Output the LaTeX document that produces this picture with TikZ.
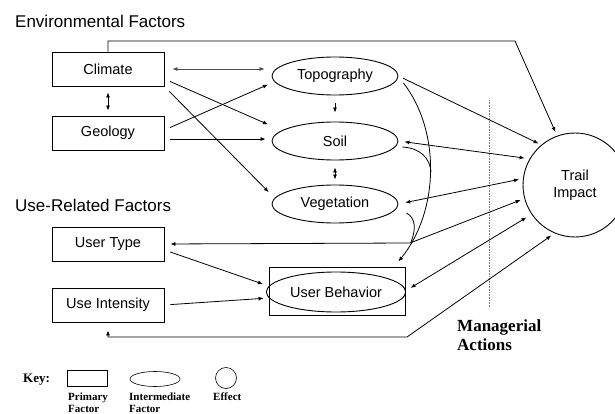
\documentclass[tikz,border=0pt]{standalone}
\usepackage{fontspec}
\setmainfont{Liberation Sans}
\newfontfamily\keyfont{Liberation Serif}
\usetikzlibrary{arrows.meta,shapes.geometric}

\begin{document}
\begin{tikzpicture}[x=1pt,y=-1pt,
    primary/.style={draw,line width=0.9pt,minimum width=112pt,minimum height=34pt,
      font=\fontsize{14.5}{17}\selectfont},
    inter/.style={draw,ellipse,line width=0.9pt,minimum width=126pt,minimum height=38pt,
      font=\fontsize{14.5}{17}\selectfont},
    effect/.style={draw,circle,line width=0.9pt,minimum size=104pt,align=center,
      font=\fontsize{14.5}{17}\selectfont},
    heading/.style={anchor=west,inner sep=0pt,font=\fontsize{17}{20}\selectfont},
    keytext/.style={anchor=north west,inner sep=0pt,align=left,
      font=\keyfont\bfseries\fontsize{11}{12}\selectfont},
    link/.style={line width=0.8pt,>={Latex[length=5pt,width=4pt]}}]
      \useasboundingbox (0,0) rectangle (615,414);
      \draw
        (15,21) node[heading] (envtitle){Environmental Factors}
        (108,69) node[primary] (climate){Climate}
        (108,133) node[primary] (geology){Geology}
        (15,205) node[heading] (usetitle){Use-Related Factors}
        (108,244) node[primary] (usertype){User Type}
        (108,305) node[primary] (useint){Use Intensity}
        (335,76) node[inter] (topo){Topography}
        (335,141) node[inter] (soil){Soil}
        (335,204) node[inter] (veg){Vegetation}
        (337,291) node[draw,line width=0.9pt,minimum width=136pt,minimum height=48pt] (userbox){}
        (336,292) node[inter,minimum width=128pt,minimum height=40pt] (behavior){User Behavior}
        (575,185) node[effect] (trail){Trail\\Impact}
        (457,320) node[anchor=north west,inner sep=0pt,align=left,
          font=\keyfont\bfseries\fontsize{17}{19}\selectfont] (managerial){Managerial\\Actions};
      \coordinate (topbend) at (515,41);
      \coordinate (utbend) at (410,243);
      \coordinate (botbend) at (407,337);
      \coordinate (merge1) at (431,172);
      \coordinate (merge2) at (411,242);
      % managerial actions boundary
      \draw[gray,line width=0.6pt,densely dotted] (489,100) -- (489,307);
      \begin{scope}[link]
        \draw[<->,line width=0.6pt,gray!60!black,shorten <=8pt,shorten >=7pt] (climate.east) to (climate.east -| topo.west);
        \draw[<->,shorten <=6pt,shorten >=5pt] (climate.south) to (geology.north);
        \draw[->,shorten <=6pt,shorten >=4pt] ([yshift=-10pt]climate.east) to ([yshift=15pt]soil.west);
        \draw[->,shorten <=7pt,shorten >=4pt] (climate.south east) to ([yshift=9pt]veg.west);
        \draw[->,shorten <=6pt,shorten >=4pt] ([yshift=3pt]geology.east) to ([yshift=-7pt]topo.west);
        \draw[->,shorten <=6pt,shorten >=6pt] ([yshift=-6pt]geology.east) to ([yshift=2pt]soil.west);
        \draw[->,shorten <=8pt,shorten >=9pt] (topo.south) to (soil.north);
        \draw[<->,shorten <=7pt,shorten >=5pt] (soil.south) to (veg.north);
        \draw[->,shorten >=4pt] (climate.north) |- (topbend) -- (trail.110);
        \draw[->,shorten <=5pt,shorten >=3pt] (topo.east) to (trail.130);
        \draw[<->,shorten <=6pt,shorten >=5pt] (soil.east) to (trail.150);
        \draw[<->,shorten <=7pt,shorten >=4pt] (veg.east) to (trail.173);
        \draw[<->,shorten <=6pt,shorten >=4pt] (usertype.east) -- (utbend) -- (trail.195);
        \draw[<->,shorten <=6pt,shorten >=6pt] (userbox.east) to (trail.214);
        \draw[<->,shorten <=8pt,shorten >=4pt] (useint.south) |- (botbend) -- (trail.247);
        \draw[->,shorten <=6pt,shorten >=6pt] ([yshift=-6pt]usertype.east) to ([yshift=5pt]userbox.west);
        \draw[->,shorten <=6pt,shorten >=5pt] (useint.east) to ([yshift=-7pt]userbox.west);
        \draw[->] ([shift={(5pt,-7pt)}]topo.east) .. controls (440,130) and (440,210) .. ([shift={(-7pt,5pt)}]userbox.north east);
        \draw ([shift={(4pt,-6pt)}]soil.east) .. controls (420,148) and (430,158) .. (merge1);
        \draw ([shift={(8pt,-9pt)}]veg.east) .. controls (416,218) and (416,230) .. (merge2);
      \end{scope}
      % key
      \draw
        (23,380) node[anchor=west,inner sep=0pt,font=\keyfont\bfseries\fontsize{13}{15}\selectfont] (keyword){Key:}
        (87,378) node[draw,line width=0.6pt,minimum width=40pt,minimum height=16pt] (keybox){}
        (155,379) node[draw,ellipse,line width=0.6pt,minimum width=50pt,minimum height=15pt] (keyellipse){}
        (226,378) node[draw,circle,line width=0.6pt,minimum size=21pt] (keycircle){}
        (68,393) node[keytext] (keyprimary){Primary\\Factor}
        (129,393) node[keytext] (keyinter){Intermediate\\Factor}
        (213,393) node[keytext] (keyeffect){Effect};
    \end{tikzpicture}
\end{document}
